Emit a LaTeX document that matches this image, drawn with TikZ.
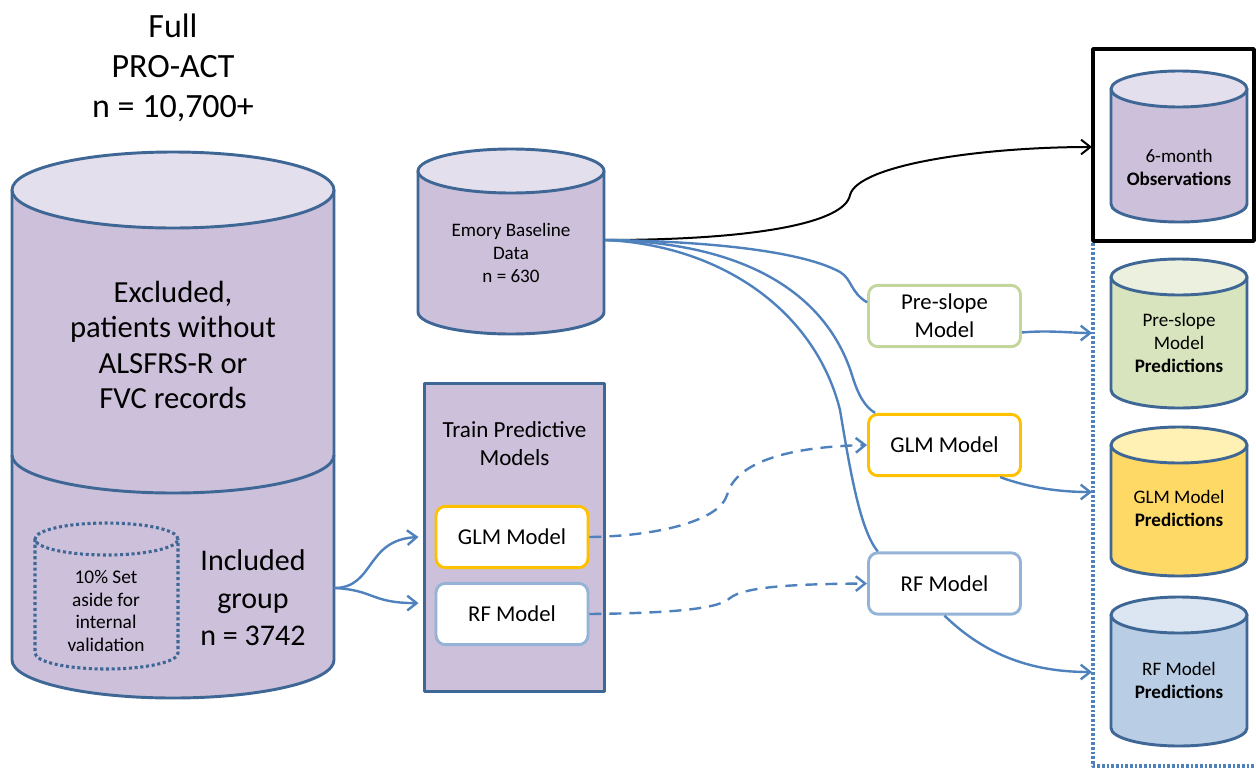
\documentclass[tikz,border=0pt]{standalone}
\usepackage{fontspec}
\setmainfont{Carlito}
\usetikzlibrary{arrows.meta}

\definecolor{cylblue}{HTML}{3F6796}
\definecolor{linkblue}{HTML}{4F81BD}
\definecolor{lilac}{HTML}{CCC0DA}
\definecolor{lilactop}{HTML}{E4DFEC}
\definecolor{sage}{HTML}{D7E4BD}
\definecolor{sagetop}{HTML}{EBF1DE}
\definecolor{sageline}{HTML}{C3D69B}
\definecolor{gold}{HTML}{FFD966}
\definecolor{goldtop}{HTML}{FFF0B3}
\definecolor{goldline}{HTML}{FFC000}
\definecolor{sky}{HTML}{B9CDE5}
\definecolor{skytop}{HTML}{DCE6F2}
\definecolor{skyline}{HTML}{95B3D7}

% cylinder: left x, right x, lid y, base y, y radius, body colour, lid colour
\newcommand{\dbcyl}[7]{%
  \pgfmathsetmacro{\cylrx}{(#2-#1)/2}%
  \filldraw[cylline, fill=#6] (#1,#3) -- (#1,#4)
    arc[start angle=180, end angle=360, x radius=\cylrx, y radius=#5] -- (#2,#3) -- cycle;
  \filldraw[cylline, fill=#7] ({(#1+#2)/2},#3) ellipse[x radius=\cylrx, y radius=#5];
}

\begin{document}
\begin{tikzpicture}[
        x=0.75pt, y=0.75pt,
        line join=round,
        cylline/.style = {line width=2.2pt, draw=cylblue},
        dotline/.style = {line width=2.3pt, draw=cylblue, dash pattern=on 2.3pt off 2pt},
        txt/.style = {align=center, inner sep=0pt},
        cyltxt/.style = {txt, font=\fontsize{14.3}{17.2}\selectfont},
        modelbox/.style = {draw, fill=white, line width=2.2pt, rounded corners=7pt,
            minimum width=114pt, minimum height=46pt, align=center,
            font=\fontsize{17}{21}\selectfont},
        fan/.style = {line width=1.8pt, draw=linkblue},
        link/.style = {fan, -{Straight Barb[length=7pt, width=11pt]}},
        dashlink/.style = {link, dash pattern=on 9pt off 6pt}
    ]

    \useasboundingbox (0,0) rectangle (1256,-768);

    % cylinders
    \dbcyl{12}{334}{-190}{-660}{38}{lilac}{lilactop}
    \draw[cylline] (12,-455) arc[start angle=180, end angle=360, x radius=161, y radius=38];
    \draw[dotline] (35,-539) -- (35,-653) arc[start angle=180, end angle=360, x radius=71.5, y radius=16] -- (178,-539);
    \draw[dotline] (106.5,-539) ellipse[x radius=71.5, y radius=16];

    \dbcyl{418}{604}{-171}{-312}{22}{lilac}{lilactop}

    \dbcyl{1111}{1247}{-89}{-204}{18}{lilac}{lilactop}
    \dbcyl{1111}{1247}{-277}{-390}{18}{sage}{sagetop}
    \dbcyl{1111}{1247}{-445}{-558}{18}{gold}{goldtop}
    \dbcyl{1111}{1247}{-615}{-728}{18}{sky}{skytop}

    \draw[line width=2.6pt] (1093,-49) rectangle (1254,-241);
    \draw[line width=2.4pt, draw=linkblue, dash pattern=on 2pt off 1.5pt] (1093,-243) -- (1093,-766) -- (1256,-766);

    \node[draw=cylblue, fill=lilac, line width=2.2pt, minimum width=135pt, minimum height=231pt] (train) at (514.5,-537.5) {};

    % texts
    \node[txt, font=\fontsize{25.5}{30}\selectfont] (full) at (173,-68) {Full\\PRO-ACT\\n = 10,700+};
    \node[txt, font=\fontsize{23}{26.5}\selectfont] (excl) at (173,-345) {Excluded,\\patients without\\ALSFRS-R or\\FVC records};
    \node[txt, font=\fontsize{22.5}{28}\selectfont] (incl) at (253,-598) {Included\\group\\n = 3742};
    \node[txt, font=\fontsize{14.5}{17}\selectfont] (holdout) at (106,-611) {10\% Set\\aside for\\internal\\validation};
    \node[cyltxt] (emory) at (511,-253) {Emory Baseline\\Data\\n = 630};
    \node[txt, font=\fontsize{17.3}{21}\selectfont] (traintxt) at (514.5,-444) {Train Predictive\\Models};

    \node[modelbox, draw=goldline] (glmA) at (512,-537) {GLM Model};
    \node[modelbox, draw=skyline] (rfA) at (512,-614) {RF Model};
    \node[modelbox, draw=sageline] (pre) at (944.5,-316) {Pre-slope\\Model};
    \node[modelbox, draw=goldline] (glmB) at (944.5,-445) {GLM Model};
    \node[modelbox, draw=skyline] (rfB) at (944.5,-583.5) {RF Model};

    \node[cyltxt] (obs) at (1179,-167) {6-month\\\textbf{Observations}};
    \node[cyltxt] (prepred) at (1179,-343) {Pre-slope\\Model\\\textbf{Predictions}};
    \node[cyltxt] (glmpred) at (1179,-508) {GLM Model\\\textbf{Predictions}};
    \node[cyltxt] (rfpred) at (1179,-680) {RF Model\\\textbf{Predictions}};

    \coordinate (inclout) at (334,-588);
    \coordinate (emoout) at (605,-240);
    \coordinate (obsin) at (1092,-147);
    \coordinate (prein) at (1092,-333);
    \coordinate (glmin) at (1092,-492);
    \coordinate (rfin) at (1092,-672);

    % connectors
    \draw[link] (inclout) .. controls (375,-588) and (365,-540) .. ([xshift=-12pt]glmA.west);
    \draw[link] (inclout) .. controls (375,-590) and (370,-603) .. ([xshift=-12pt]rfA.172);

    \draw[link, draw=black, line width=1.5pt] (emoout) .. controls (760,-240) and (845,-222) .. (850,-195) .. controls (858,-165) and (980,-147) .. (obsin);
    \draw[fan] (emoout) .. controls (700,-241) and (800,-250) .. (840,-272) .. controls (852,-279) and (850,-292) .. (pre.170);
    \draw[fan] (emoout) .. controls (740,-242) and (825,-290) .. (852,-375) .. controls (858,-395) and (865,-407) .. ([xshift=6pt]glmB.north west);
    \draw[fan] (emoout) .. controls (720,-245) and (815,-310) .. (840,-410) .. controls (850,-470) and (860,-530) .. ([xshift=8pt]rfB.north west);

    \draw[dashlink] (glmA.east) .. controls (660,-536) and (720,-520) .. (727,-495) .. controls (735,-465) and (780,-447) .. (glmB.west);
    \draw[dashlink] (rfA.east) .. controls (680,-613) and (720,-608) .. (730,-598) .. controls (745,-586) and (800,-584) .. (rfB.west);

    \draw[link] (pre.-12) .. controls (1050,-330) and (1070,-333) .. (prein);
    \draw[link] (glmB.-30) .. controls (1030,-488) and (1060,-492) .. (glmin);
    \draw[link] (rfB.south) .. controls (990,-660) and (1040,-672) .. (rfin);

\end{tikzpicture}
\end{document}
